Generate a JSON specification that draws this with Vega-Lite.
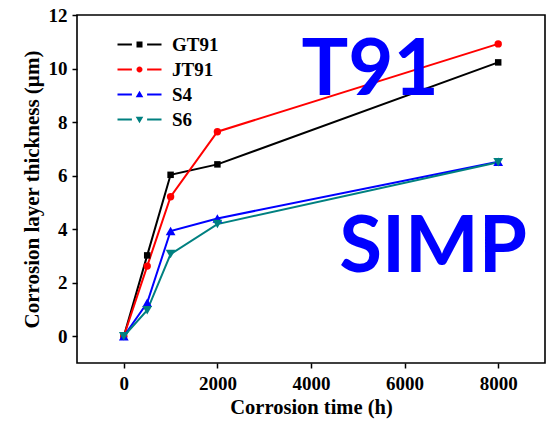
{
  "$schema": "https://vega.github.io/schema/vega-lite/v6.json",
  "width": 468,
  "height": 348,
  "autosize": {"type": "none"},
  "padding": {"left": 77, "top": 15, "right": 5, "bottom": 59},
  "background": "white",
  "config": {
    "view": {"stroke": "black", "strokeWidth": 1.6},
    "axis": {
      "grid": false,
      "domain": false,
      "ticks": true,
      "tickSize": 5,
      "tickColor": "#000000",
      "tickWidth": 1.5,
      "labelFont": "Liberation Serif",
      "labelFontWeight": "bold",
      "labelFontSize": 19,
      "labelColor": "black",
      "titleFont": "Liberation Serif",
      "titleFontWeight": "bold",
      "titleFontSize": 20.5,
      "titleColor": "black"
    },
    "axisX": {"labelPadding": 6, "titlePadding": 4},
    "axisY": {"labelPadding": 5, "titlePadding": 6, "titleFontSize": 21}
  },
  "datasets": {
    "series": [
      {"series": "GT91", "time": 0, "thickness": 0},
      {"series": "GT91", "time": 500, "thickness": 3.02},
      {"series": "GT91", "time": 1000, "thickness": 6.03},
      {"series": "GT91", "time": 2000, "thickness": 6.42},
      {"series": "GT91", "time": 8000, "thickness": 10.23},
      {"series": "JT91", "time": 0, "thickness": 0},
      {"series": "JT91", "time": 500, "thickness": 2.62},
      {"series": "JT91", "time": 1000, "thickness": 5.21},
      {"series": "JT91", "time": 2000, "thickness": 7.64},
      {"series": "JT91", "time": 8000, "thickness": 10.92},
      {"series": "S4", "time": 0, "thickness": 0},
      {"series": "S4", "time": 500, "thickness": 1.25},
      {"series": "S4", "time": 1000, "thickness": 3.93},
      {"series": "S4", "time": 2000, "thickness": 4.4},
      {"series": "S4", "time": 8000, "thickness": 6.52},
      {"series": "S6", "time": 0, "thickness": 0},
      {"series": "S6", "time": 500, "thickness": 0.97},
      {"series": "S6", "time": 1000, "thickness": 3.07},
      {"series": "S6", "time": 2000, "thickness": 4.19},
      {"series": "S6", "time": 8000, "thickness": 6.5}
    ],
    "notes": [
      {"label": "T91", "time": 5262, "thickness": 9.0},
      {"label": "SIMP", "time": 6610, "thickness": 2.39}
    ]
  },
  "encoding": {
    "x": {"field": "time", "type": "quantitative", "title": "Corrosion time (h)",
      "scale": {"domain": [-1000, 9000], "nice": false, "zero": false},
      "axis": {"values": [0, 2000, 4000, 6000, 8000], "format": "d"}},
    "y": {"field": "thickness", "type": "quantitative", "title": "Corrosion layer thickness (µm)",
      "scale": {"domain": [-1, 12], "nice": false, "zero": false},
      "axis": {"values": [0, 2, 4, 6, 8, 10, 12], "format": "d"}}
  },
  "layer": [
    {
      "data": {"name": "series"},
      "transform": [{"filter": "datum.series === 'GT91'"}],
      "mark": {"type": "line", "strokeWidth": 2, "color": "#000000"}
    },
    {
      "data": {"name": "series"},
      "transform": [{"filter": "datum.series === 'JT91'"}],
      "mark": {"type": "line", "strokeWidth": 2, "color": "#ff0000"}
    },
    {
      "data": {"name": "series"},
      "transform": [{"filter": "datum.series === 'S4'"}],
      "mark": {"type": "line", "strokeWidth": 2, "color": "#0000ff"}
    },
    {
      "data": {"name": "series"},
      "transform": [{"filter": "datum.series === 'S6'"}],
      "mark": {"type": "line", "strokeWidth": 2, "color": "#008080"}
    },
    {
      "data": {"name": "series"},
      "transform": [{"filter": "datum.series === 'GT91'"}],
      "mark": {"type": "point", "shape": "square", "filled": true, "opacity": 1, "size": 42, "color": "#000000"}
    },
    {
      "data": {"name": "series"},
      "transform": [{"filter": "datum.series === 'JT91'"}],
      "mark": {"type": "point", "shape": "circle", "filled": true, "opacity": 1, "size": 55, "color": "#ff0000"}
    },
    {
      "data": {"name": "series"},
      "transform": [{"filter": "datum.series === 'S4'"}],
      "mark": {"type": "point", "shape": "triangle-up", "filled": true, "opacity": 1, "size": 95, "color": "#0000ff"}
    },
    {
      "data": {"name": "series"},
      "transform": [{"filter": "datum.series === 'S6'"}],
      "mark": {"type": "point", "shape": "triangle-down", "filled": true, "opacity": 1, "size": 95, "color": "#008080"}
    },
    {
      "data": {"name": "series"},
      "transform": [{"filter": "datum.time < -500"}],
      "mark": {"type": "point", "filled": true},
      "encoding": {
        "color": {"field": "series", "type": "nominal",
          "scale": {"domain": ["GT91", "JT91", "S4", "S6"], "range": ["#000000", "#ff0000", "#0000ff", "#008080"]},
          "legend": {"orient": "none", "legendX": 53, "legendY": 20, "title": null, "symbolSize": 64, "symbolOpacity": 1, "symbolStrokeWidth": 0, "labelFont": "Liberation Serif", "labelFontWeight": "bold", "labelFontSize": 19, "labelColor": "black", "labelOffset": 23, "rowPadding": 5}},
        "shape": {"field": "series", "type": "nominal",
          "scale": {"domain": ["GT91", "JT91", "S4", "S6"],
            "range": [
              "M-5.5,-0.22H-1.9V0.22H-5.5Z M1.9,-0.22H5.5V0.22H1.9Z M-0.75,-0.75H0.75V0.75H-0.75Z",
              "M-5.5,-0.22H-1.9V0.22H-5.5Z M1.9,-0.22H5.5V0.22H1.9Z M0.75,0A0.75,0.75,0,1,1,-0.75,0A0.75,0.75,0,1,1,0.75,0Z",
              "M-5.5,-0.22H-1.9V0.22H-5.5Z M1.9,-0.22H5.5V0.22H1.9Z M0,-0.95L0.95,0.7L-0.95,0.7Z",
              "M-5.5,-0.22H-1.9V0.22H-5.5Z M1.9,-0.22H5.5V0.22H1.9Z M0,0.95L0.95,-0.7L-0.95,-0.7Z"
            ]},
          "legend": {"orient": "none", "legendX": 53, "legendY": 20, "title": null, "symbolSize": 64, "symbolOpacity": 1, "symbolStrokeWidth": 0, "labelFont": "Liberation Serif", "labelFontWeight": "bold", "labelFontSize": 19, "labelColor": "black", "labelOffset": 23, "rowPadding": 5}}
      }
    },
    {
      "data": {"name": "notes"},
      "mark": {"type": "text", "font": "Lato", "fontWeight": "bold", "fontSize": 78, "color": "#0000ff", "align": "center", "baseline": "alphabetic"},
      "encoding": {
        "text": {"field": "label", "type": "nominal"}
      }
    }
  ]
}
